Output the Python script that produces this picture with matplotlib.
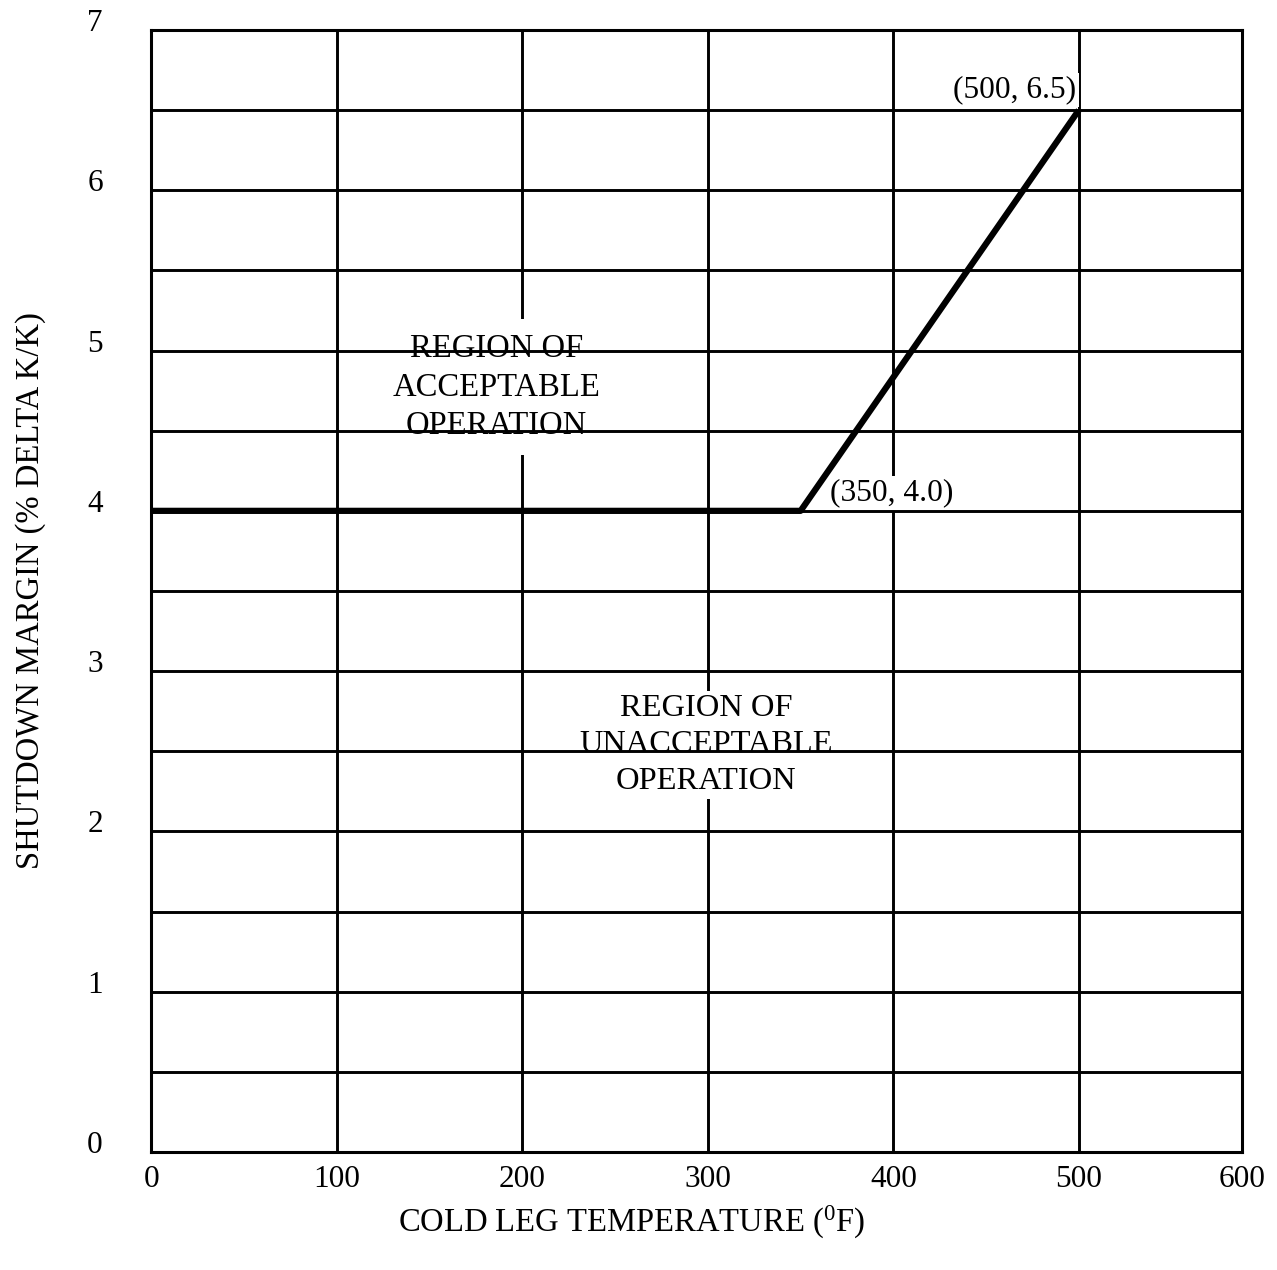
import numpy as np
import matplotlib
matplotlib.use('Agg')
import matplotlib.pyplot as plt
from matplotlib.transforms import ScaledTranslation

# shutdown margin limit curve
temp = [0, 350, 500]
margin = [4.0, 4.0, 6.5]

# the last column of the original grid is drawn short: its right border sits at ~588
x_right = 588
x_tick_pos = [0, 100, 200, 300, 400, 500, x_right]
x_tick_labels = ['0', '100', '200', '300', '400', '500', '600']
x_grid = [100, 200, 300, 400, 500]
y_ticks = [0, 1, 2, 3, 4, 5, 6, 7]
y_grid = [0.5, 1, 1.5, 2, 2.5, 3, 3.5, 4, 4.5, 5, 5.5, 6, 6.5]

plt.rcParams['font.family'] = ['Liberation Serif', 'DejaVu Serif']

fig = plt.figure(figsize=(12.77, 12.70), dpi=100)
ax = fig.add_axes([0.1186, 0.0929, 0.8540, 0.8835])
ax.set_xlim(0, x_right)
ax.set_ylim(0, 7)

# grid: vertical lines under the label boxes, horizontal lines over them
for xv in x_grid:
    ax.axvline(xv, color='black', lw=2.1, zorder=1)
for yv in y_grid:
    ax.axhline(yv, color='black', lw=2.1, zorder=3)

ax.plot(temp, margin, color='black', lw=4.5, zorder=4, solid_capstyle='butt')

box = dict(facecolor='white', edgecolor='none', pad=2)
ax.text(186, 4.77, 'REGION OF\nACCEPTABLE\nOPERATION', ha='center', va='center',
        fontsize=23.5, linespacing=1.35, zorder=2,
        bbox=dict(facecolor='white', edgecolor='none', pad=10))
ax.text(299, 2.54, 'REGION OF\nUNACCEPTABLE\nOPERATION', ha='center', va='center',
        fontsize=23.4, linespacing=1.35, zorder=2, bbox=box)
ax.text(366, 4.11, '(350, 4.0)', ha='left', va='center', fontsize=22.6,
        zorder=2, bbox=box)
ax.text(498.5, 6.625, '(500, 6.5)', ha='right', va='center', fontsize=22.6,
        zorder=2, bbox=box)

ax.set_xticks(x_tick_pos, x_tick_labels)
ax.set_yticks(y_ticks)
ax.tick_params(axis='both', length=0, labelsize=22.5)
ax.tick_params(axis='y', pad=35)
ax.tick_params(axis='x', pad=9)
for lab in ax.get_yticklabels():
    lab.set_transform(lab.get_transform() + ScaledTranslation(0, 0.1, fig.dpi_scale_trans))

for sp in ax.spines.values():
    sp.set_linewidth(2.2)
    sp.set_zorder(5)

ax.set_xlabel(r'COLD LEG TEMPERATURE ($\mathregular{^{0}}$F)', fontsize=23.5, va='center')
ax.xaxis.set_label_coords(0.44, -0.0624)
ax.set_ylabel('SHUTDOWN MARGIN (% DELTA K/K)', fontsize=23.5, va='center')
ax.yaxis.set_label_coords(-0.111, 0.5)

fig.savefig('out.png', dpi=100)
